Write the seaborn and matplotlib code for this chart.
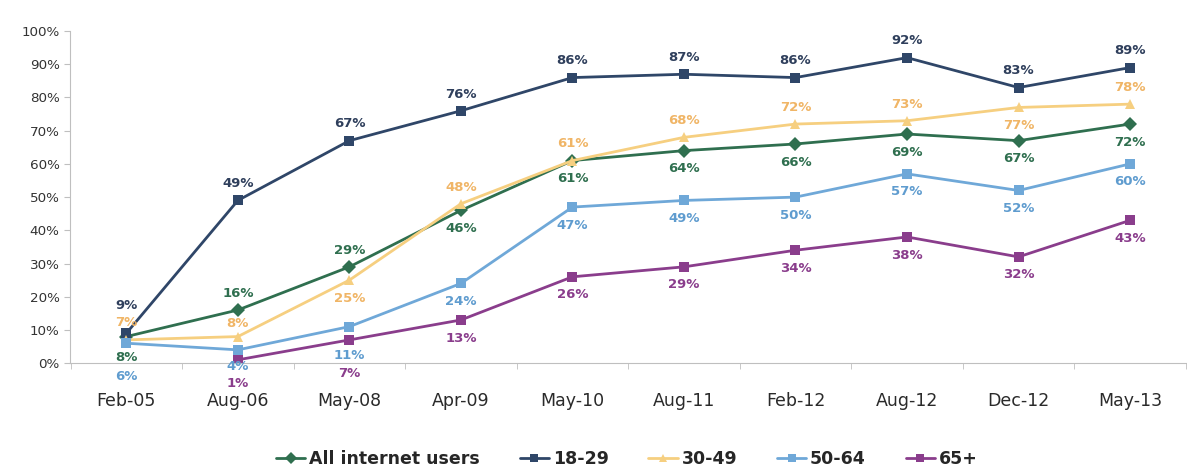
import pandas as pd
import numpy as np
import matplotlib
matplotlib.use("Agg")
import matplotlib.pyplot as plt
import seaborn as sns

# Values
dates = ['Feb-05', 'Aug-06', 'May-08', 'Apr-09', 'May-10',
         'Aug-11', 'Feb-12', 'Aug-12', 'Dec-12', 'May-13']
all_users = [8, 16, 29, 46, 61, 64, 66, 69, 67, 72]
age_18_29 = [9, 49, 67, 76, 86, 87, 86, 92, 83, 89]
age_30_49 = [7, 8, 25, 48, 61, 68, 72, 73, 77, 78]
age_50_64 = [6, 4, 11, 24, 47, 49, 50, 57, 52, 60]
age_65 = [np.nan, 1, 7, 13, 26, 29, 34, 38, 32, 43]

series_names = ['All internet users', '18-29', '30-49', '50-64', '65+']
series_values = [all_users, age_18_29, age_30_49, age_50_64, age_65]

# label above (+1) or below (-1) the point
label_side = {
    'All internet users': [-1, 1, 1, -1, -1, -1, -1, -1, -1, -1],
    '18-29': [1] * 10,
    '30-49': [1, 1, -1, 1, 1, 1, 1, 1, -1, 1],
    '50-64': [-1] * 10,
    '65+': [-1] * 10,
}
# crowded labels near the bottom left get their own offsets (points)
label_offset = {
    ('18-29', 0): 20, ('30-49', 0): 12.5, ('All internet users', 0): -15,
    ('50-64', 0): -24, ('30-49', 1): 9.5, ('50-64', 1): -12, ('65+', 1): -17,
    ('50-64', 2): -21, ('65+', 2): -24,
}

line_colors = {'All internet users': '#2f6f4f', '18-29': '#2f4668',
               '30-49': '#f6cf80', '50-64': '#6fa8d8', '65+': '#8a3d8c'}
text_colors = {'All internet users': '#2f6f4f', '18-29': '#2f3f5c',
               '30-49': '#f0b566', '50-64': '#5f9ccf', '65+': '#8a3d8c'}
markers = {'All internet users': 'D', '18-29': 's', '30-49': '^',
           '50-64': 's', '65+': 's'}

rows = []
for name, vals in zip(series_names, series_values):
    for d, v in zip(dates, vals):
        rows.append({'date': d, 'series': name, 'value': v})
df = pd.DataFrame(rows)

sns.set_style("white")
plt.rcParams['font.family'] = ['DejaVu Sans']

fig = plt.figure(figsize=(11.87, 4.71), dpi=100)
ax = fig.add_axes([0.059, 0.229, 0.94, 0.705])

sns.lineplot(data=df.dropna(), x='date', y='value', hue='series', style='series',
             hue_order=series_names, style_order=series_names,
             palette=line_colors, markers=markers, dashes=False,
             linewidth=2, markersize=7, markeredgewidth=0, ax=ax, legend=False)

# point labels
for name, vals in zip(series_names, series_values):
    for i, v in enumerate(vals):
        if np.isnan(v):
            continue
        side = label_side[name][i]
        dy = label_offset.get((name, i), 12 * side if side > 0 else -13)
        ax.annotate(f'{int(v)}%', (i, v), xytext=(0, dy), textcoords='offset points',
                    ha='center', va='center', fontsize=9.5, fontweight='bold',
                    color=text_colors[name])

ax.set_ylim(0, 100)
ax.set_xlim(-0.505, 9.38)
ax.set_yticks(range(0, 101, 10))
ax.set_yticklabels([f'{t}%' for t in range(0, 101, 10)])
ax.set_xticks(range(len(dates)))
ax.set_xticklabels(dates)
ax.set_xticks(np.arange(-0.5, len(dates), 1), minor=True)
ax.set_xlabel('')
ax.set_ylabel('')

for s in ['top', 'right']:
    ax.spines[s].set_visible(False)
for s in ['left', 'bottom']:
    ax.spines[s].set_color('#bfbfbf')
ax.tick_params(axis='y', which='major', length=4, color='#bfbfbf', labelsize=9.7,
               labelcolor='#333333', left=True)
ax.tick_params(axis='x', which='major', length=0, labelsize=12.5, labelcolor='#2a2a2a', pad=21)
ax.tick_params(axis='x', which='minor', length=4, color='#bfbfbf', bottom=True)

handles = [plt.Line2D([], [], color=line_colors[n], marker=markers[n], markersize=6,
                      markeredgewidth=0, linewidth=2) for n in series_names]
fig.legend(handles, series_names, loc='center', bbox_to_anchor=(0.528, 0.025),
           ncol=5, frameon=False, handlelength=1.7, handletextpad=0.2, columnspacing=2.3,
           prop={'weight': 'bold', 'size': 12.5})

fig.savefig('out.png', dpi=100)
